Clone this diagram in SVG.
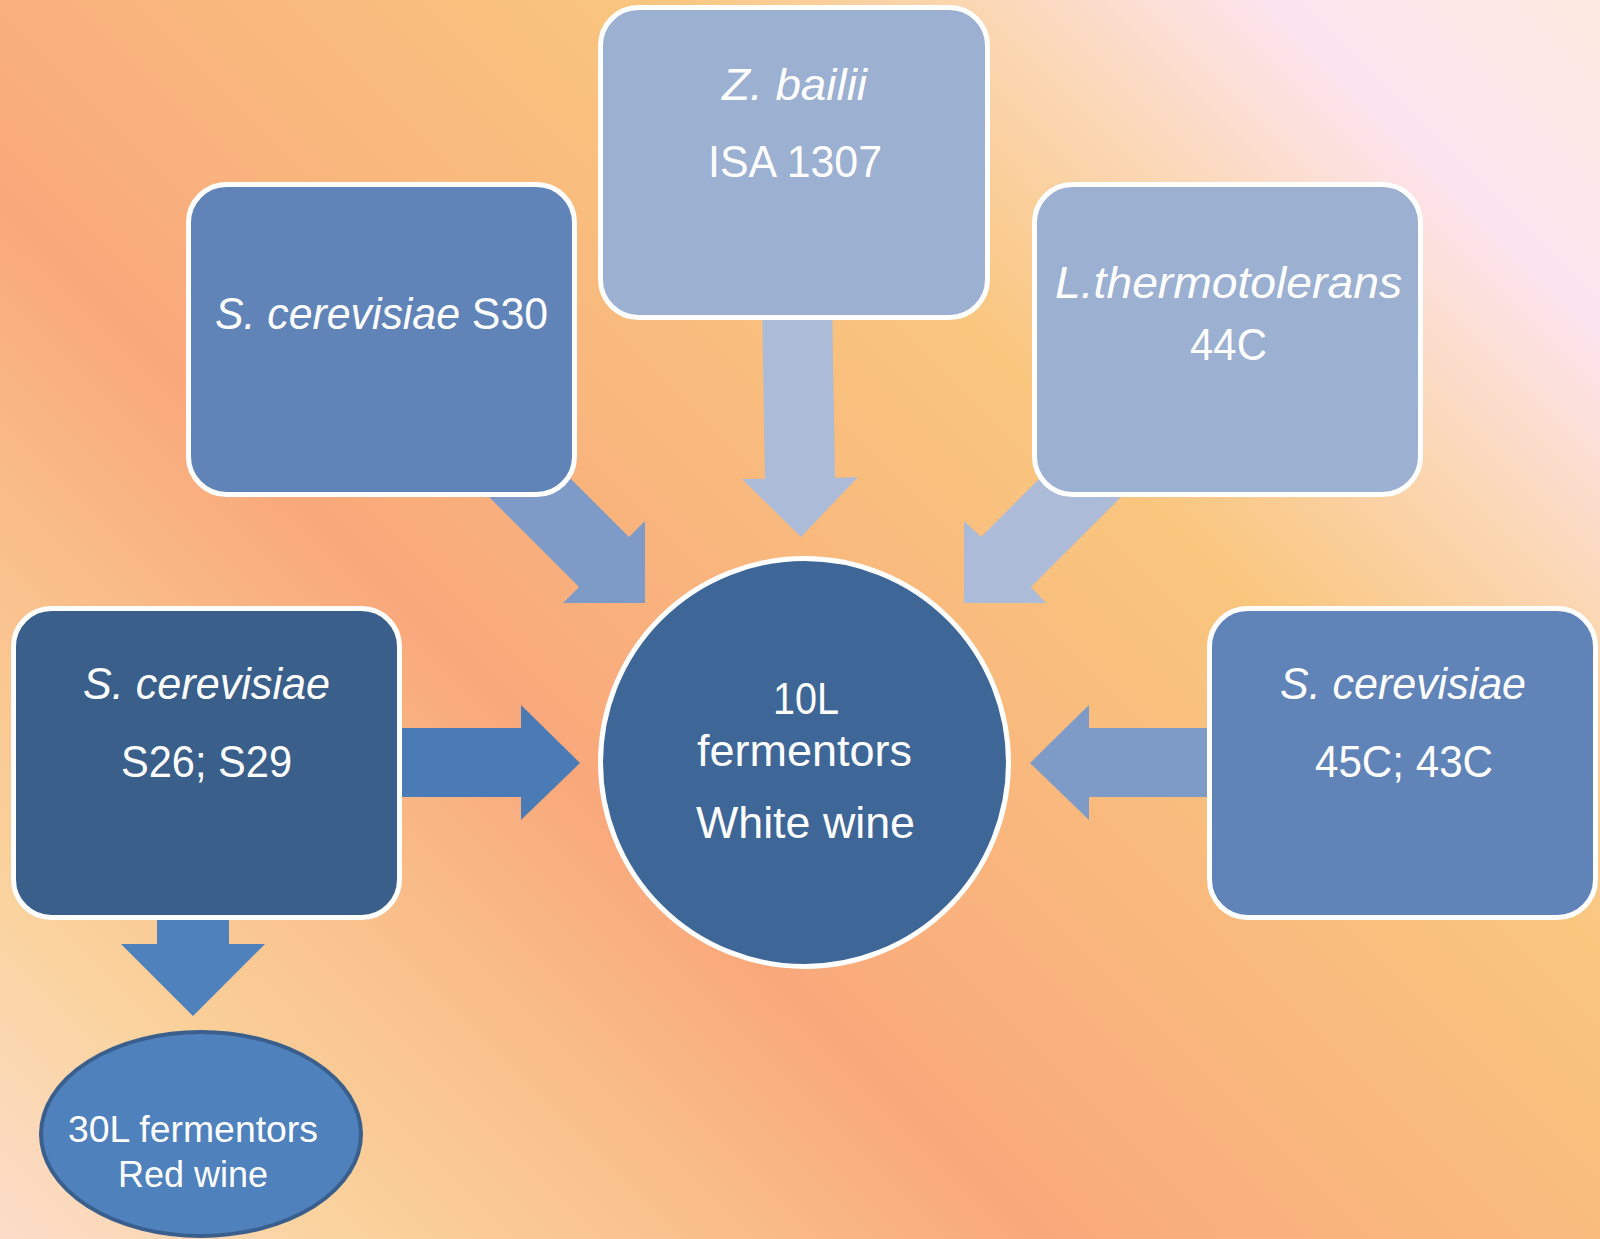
<svg xmlns="http://www.w3.org/2000/svg" width="1600" height="1239" viewBox="0 0 1600 1239">
<defs>
<linearGradient id="bg" gradientUnits="userSpaceOnUse" x1="0" y1="1239" x2="1419.5" y2="-180.5">
<stop offset="0" stop-color="#fcdcca"/>
<stop offset="0.119" stop-color="#fad39e"/>
<stop offset="0.267" stop-color="#f9bc88"/>
<stop offset="0.366" stop-color="#f9a87b"/>
<stop offset="0.436" stop-color="#f9b07d"/>
<stop offset="0.665" stop-color="#f9c67e"/>
<stop offset="0.789" stop-color="#fbd8b8"/>
<stop offset="0.884" stop-color="#fce4ef"/>
<stop offset="1" stop-color="#fce9df"/>
</linearGradient>
<style>
.box{stroke:#ffffff;stroke-width:5}
.t{font-family:"Liberation Sans",Arial,sans-serif;font-size:44px;fill:#ffffff}
.it{font-style:italic}
.s{font-size:37px}
</style>
</defs>
<rect x="0" y="0" width="1600" height="1239" fill="url(#bg)"/>
<g id="connectors">
<polygon fill="#7e9bc7" points="645,603 563,603 579,587 459,467 509,417 629,537 645,521"/>
<polygon fill="#abbbd8" points="762,300 832,300 835,478 858,477 801,537 742,479 765,479"/>
<polygon fill="#abbbd8" points="964,603 964,521 981,537 1101,417 1151,467 1031,587 1046,603"/>
<polygon fill="#4a7bb5" points="395,728 521,728 521,705 580,763 521,820 521,797 395,797"/>
<polygon fill="#7e9bc7" points="1215,728 1089,728 1089,705 1030,763 1089,820 1089,797 1215,797"/>
<polygon fill="#4f81bd" points="157,900 229,900 229,944 265,944 193,1016 121,944 157,944"/>
</g>
<g id="node-s30">
<rect class="box" x="188.5" y="184.5" width="386" height="310" rx="38" fill="#6184b8"/>
<text class="t" x="215" y="329" textLength="333" lengthAdjust="spacingAndGlyphs"><tspan class="it">S. cerevisiae</tspan> S30</text>
</g>
<g id="node-zbailii">
<rect class="box" x="600.5" y="7.5" width="387" height="310" rx="38" fill="#9cb0d1"/>
<text class="t it" x="722" y="100" textLength="145" lengthAdjust="spacingAndGlyphs">Z. bailii</text>
<text class="t" x="708" y="177" textLength="174" lengthAdjust="spacingAndGlyphs">ISA 1307</text>
</g>
<g id="node-lthermo">
<rect class="box" x="1034.5" y="184.5" width="386" height="310" rx="38" fill="#9cb0d1"/>
<text class="t it" x="1055" y="298" textLength="347" lengthAdjust="spacingAndGlyphs">L.thermotolerans</text>
<text class="t" x="1190" y="360" textLength="77" lengthAdjust="spacingAndGlyphs">44C</text>
</g>
<g id="node-s26">
<rect class="box" x="13.5" y="608.5" width="386" height="309" rx="38" fill="#3a5f8b"/>
<text class="t it" x="83" y="699" textLength="247" lengthAdjust="spacingAndGlyphs">S. cerevisiae</text>
<text class="t" x="121" y="777" textLength="171" lengthAdjust="spacingAndGlyphs">S26; S29</text>
</g>
<g id="node-45c">
<rect class="box" x="1209.5" y="608.5" width="386" height="309" rx="38" fill="#6184b8"/>
<text class="t it" x="1280" y="699" textLength="246" lengthAdjust="spacingAndGlyphs">S. cerevisiae</text>
<text class="t" x="1315" y="777" textLength="178" lengthAdjust="spacingAndGlyphs">45C; 43C</text>
</g>
<g id="node-10l">
<circle class="box" cx="804.5" cy="762.5" r="204" fill="#3e6797"/>
<text class="t" x="773" y="714" textLength="66" lengthAdjust="spacingAndGlyphs">10L</text>
<text class="t" x="697" y="766" textLength="215" lengthAdjust="spacingAndGlyphs">fermentors</text>
<text class="t" x="696" y="838" textLength="219" lengthAdjust="spacingAndGlyphs">White wine</text>
</g>
<g id="node-30l">
<ellipse cx="201" cy="1134" rx="160" ry="102" fill="#4f81bd" stroke="#3a5f8c" stroke-width="4"/>
<text class="t s" x="68" y="1142" textLength="250" lengthAdjust="spacingAndGlyphs">30L fermentors</text>
<text class="t s" x="118" y="1187" textLength="150" lengthAdjust="spacingAndGlyphs">Red wine</text>
</g>
</svg>
